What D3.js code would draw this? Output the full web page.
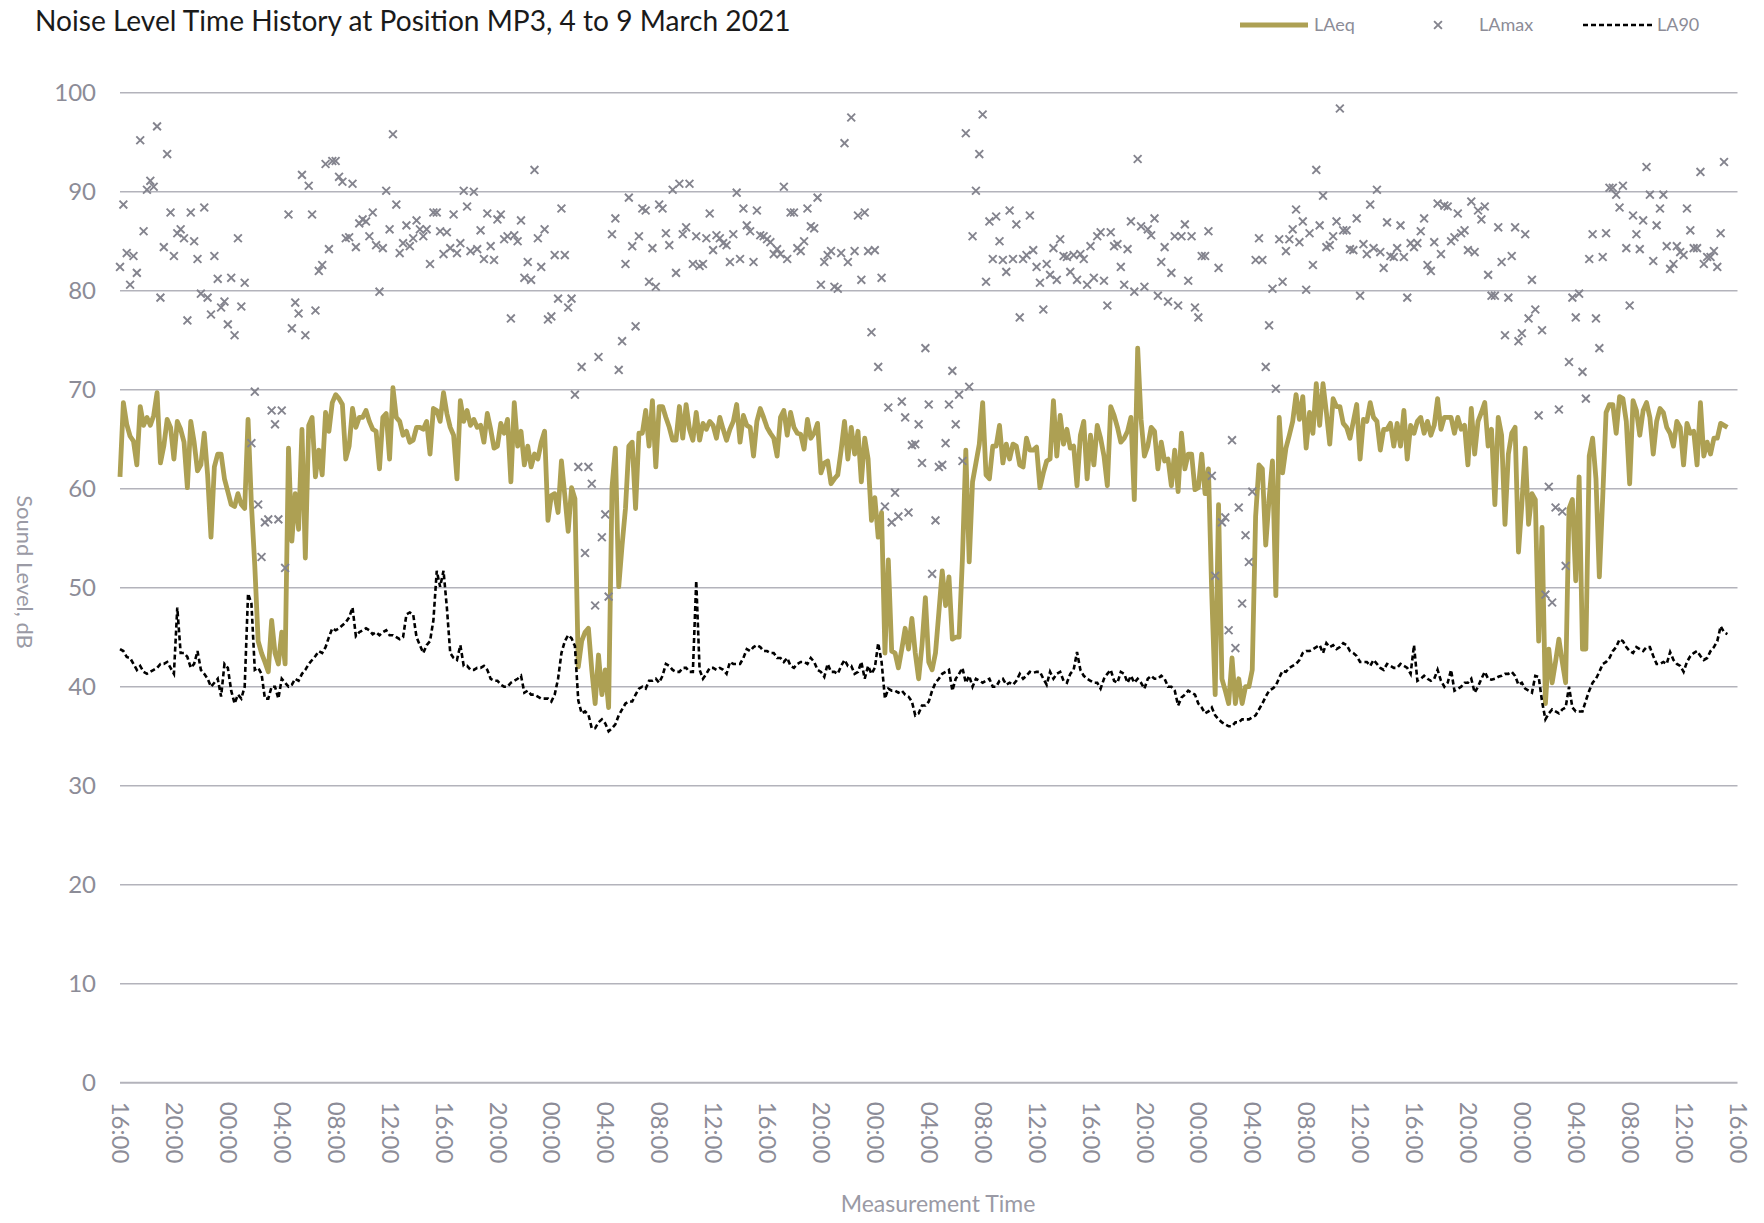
<!DOCTYPE html>
<html>
<head>
<meta charset="utf-8">
<script src="https://cdn.jsdelivr.net/npm/d3@7"></script>
<style>
  html, body { margin: 0; padding: 0; background: #ffffff; }
  svg { display: block; }
  text { font-family: Lato, "Open Sans", "DejaVu Sans", sans-serif; }
</style>
</head>
<body>
<script>
// ---------------- DATA (15-minute intervals from 16:00, 4 March 2021) ----------------
const startTime = new Date(2021, 2, 4, 16, 0);
const endTime = new Date(2021, 2, 9, 16, 0);
const intervalMinutes = 15;

const laeq = [
61.2,68.7,66.5,65.3,64.8,62.4,68.3,66.4,67.2,66.4,
67.4,69.7,62.6,64.3,67.0,66.2,63.0,66.8,66.0,64.7,
60.1,66.8,64.7,61.8,62.4,65.6,61.4,55.1,62.2,63.5,
63.5,61.0,59.7,58.4,58.2,59.5,58.4,58.0,67.0,58.4,
52.2,44.6,43.4,42.5,41.5,46.7,43.4,42.3,45.5,42.3,
64.1,54.7,59.5,55.9,66.0,53.0,66.4,67.2,61.2,63.9,
61.4,67.7,65.8,68.7,69.5,69.1,68.5,63.0,64.3,68.1,
66.2,67.2,67.2,67.9,66.8,66.0,65.8,62.0,67.2,67.6,
63.0,70.2,67.2,66.8,65.4,65.8,64.7,64.9,66.2,66.2,
66.0,66.8,63.5,68.1,67.9,66.8,69.7,67.6,66.2,65.4,
61.0,68.9,66.8,67.9,66.4,67.0,66.2,66.4,64.7,67.6,
66.0,64.1,64.3,66.6,65.6,67.0,60.7,68.7,64.3,65.8,
62.4,64.3,62.2,63.5,63.0,64.7,65.8,56.8,59.3,59.5,
57.6,62.8,59.3,55.7,60.1,59.0,42.0,44.6,45.5,45.9,
41.7,38.3,43.2,39.2,41.7,37.9,60.1,64.1,50.1,54.3,
58.0,64.3,64.7,58.0,65.6,65.6,67.9,64.3,68.9,62.2,
68.3,68.3,67.2,66.2,64.9,64.9,68.3,65.1,68.5,66.0,
64.9,67.7,64.9,66.6,66.0,66.8,66.4,65.1,67.2,66.0,
64.9,66.0,66.8,68.5,64.7,67.4,66.4,66.2,63.3,66.8,
68.1,67.2,66.2,65.6,65.1,63.3,67.2,67.9,65.4,67.7,
66.2,65.6,65.5,64.0,67.0,65.1,65.6,66.6,61.6,62.6,
62.8,60.5,61.0,61.4,63.9,66.8,63.0,66.2,63.5,65.8,
60.7,65.1,63.0,56.8,59.1,55.1,57.6,43.4,52.8,43.6,
43.4,41.9,43.8,45.9,43.8,46.9,43.4,40.8,44.2,49.0,
42.5,41.7,43.4,47.5,51.7,48.2,51.1,44.8,45.0,45.0,
53.0,63.9,52.6,60.7,62.6,64.5,68.7,61.4,61.0,64.3,
64.3,66.4,62.6,64.5,63.0,64.5,64.3,62.4,62.2,65.1,
63.9,63.9,64.2,60.1,61.6,62.8,63.0,68.9,63.3,67.4,
64.5,66.0,64.1,64.3,60.3,65.4,66.8,61.0,65.4,62.4,
66.4,65.1,63.3,60.3,68.3,67.4,66.2,64.7,65.1,65.8,
67.2,58.9,74.2,67.0,63.3,64.3,66.2,65.8,62.0,64.7,
62.8,63.0,60.3,63.9,59.7,65.6,62.0,63.5,63.5,59.9,
60.1,63.5,59.5,62.0,49.2,39.2,58.4,40.8,39.6,38.3,
42.9,38.3,40.8,38.3,40.0,40.0,41.7,57.2,62.4,62.0,
54.3,59.0,62.8,49.2,67.2,61.6,64.1,65.4,66.8,69.5,
67.0,69.3,64.1,67.7,65.6,70.6,66.4,70.6,67.7,64.5,
69.1,68.3,68.3,66.6,66.2,65.1,66.8,68.5,63.0,67.0,
66.8,68.7,67.2,66.8,63.9,66.0,66.0,66.6,64.3,66.6,
64.3,67.9,63.0,66.4,65.6,66.8,67.2,65.6,66.8,65.4,
66.4,69.1,66.0,67.2,67.2,67.2,65.6,67.2,66.0,66.4,
62.4,68.1,63.5,66.8,67.7,68.7,64.3,66.0,58.4,67.2,
65.4,56.4,63.5,65.6,66.2,53.6,58.4,64.1,56.4,59.5,
58.9,44.6,56.1,38.3,43.8,40.4,42.5,44.8,42.5,40.4,
58.0,58.9,50.7,61.2,43.8,43.8,63.3,65.1,61.0,51.1,
59.1,67.7,68.5,68.5,65.6,69.3,69.1,66.8,60.5,68.9,
67.9,65.4,67.9,68.7,67.2,63.5,66.8,68.1,67.7,66.2,
65.6,64.3,66.8,66.2,62.4,66.6,65.6,65.8,62.4,68.7,
63.3,64.7,63.5,65.1,65.1,66.6,66.4,66.2
];

const lamax = [
82.4,88.7,83.8,80.6,83.5,81.8,95.2,86.0,90.2,91.1,
90.5,96.6,79.3,84.4,93.8,87.9,83.5,85.8,86.2,85.3,
77.0,87.9,85.0,83.2,79.7,88.4,79.3,77.6,83.5,81.2,
78.3,78.9,76.6,81.3,75.5,85.3,78.4,80.8,null,64.6,
69.8,58.4,53.1,56.6,56.9,67.9,66.5,56.9,67.9,52.0,
87.7,76.2,78.8,77.7,91.7,75.5,90.6,87.7,78.0,82.0,
82.6,92.8,84.2,93.1,93.1,91.5,91.0,85.3,85.4,90.8,
84.4,86.8,87.2,87.0,85.5,87.9,84.6,79.9,84.3,90.1,
86.2,95.8,88.7,83.8,84.8,86.6,84.5,85.3,87.1,86.2,
85.5,86.2,82.7,87.9,87.9,86.0,83.7,85.9,84.3,87.7,
83.8,84.8,90.1,88.5,84.0,90.0,84.2,86.1,83.2,87.8,
84.5,83.1,87.2,87.7,85.2,85.5,77.2,85.6,85.0,87.1,
81.3,82.9,81.1,92.2,85.3,82.4,86.2,77.1,77.4,83.6,
79.2,88.3,83.6,78.3,79.2,69.5,62.2,72.3,53.5,62.2,
60.5,48.2,73.3,55.1,57.4,49.1,85.7,87.3,72.0,74.9,
82.7,89.4,84.5,76.4,85.5,88.3,88.1,80.9,84.3,80.4,
88.7,88.3,85.8,84.6,90.2,81.8,90.8,85.7,86.4,90.8,
82.7,85.5,82.5,82.7,85.3,87.8,84.1,85.6,85.3,84.8,
84.6,82.9,85.7,89.9,83.2,88.3,86.6,86.0,82.9,88.1,
85.6,85.5,85.2,84.9,83.7,84.2,83.7,90.5,83.2,87.9,
87.9,84.3,84.0,85.0,88.3,86.5,86.3,89.4,80.6,82.9,
83.6,84.0,80.4,80.2,83.8,94.9,82.9,97.5,84.0,87.6,
81.1,87.9,84.0,75.8,84.1,72.3,81.3,58.2,68.2,56.6,
59.6,57.2,68.8,67.2,57.6,64.4,64.5,66.5,62.6,74.2,
68.5,51.4,56.8,62.2,62.4,64.6,68.5,71.9,66.5,69.5,
62.8,95.9,70.3,85.5,90.1,93.8,97.8,80.9,87.0,83.2,
87.5,85.0,83.1,81.9,88.1,83.2,86.7,77.3,83.2,83.6,
87.6,84.1,82.4,80.8,78.1,82.7,81.6,84.3,81.1,85.2,
83.5,83.4,81.9,83.6,81.1,83.7,83.2,80.6,84.5,81.3,
85.5,85.9,81.0,78.5,85.9,84.5,84.7,82.4,80.6,84.2,
87.0,79.9,93.3,86.5,80.4,86.2,85.6,87.3,79.5,82.9,
84.4,78.9,81.8,85.5,78.5,85.5,86.7,81.0,85.5,78.3,
77.3,83.5,83.5,86.0,61.3,51.2,82.3,56.6,57.1,45.7,
64.9,43.9,58.1,48.4,55.3,52.6,59.7,83.1,85.3,83.1,
72.3,76.5,80.2,70.1,85.2,80.9,84.0,85.2,86.2,88.2,
84.9,87.0,80.1,85.8,82.6,92.2,86.6,89.6,84.4,84.6,
85.5,87.0,98.4,86.1,86.1,84.2,84.1,87.3,79.5,84.7,
83.7,88.7,84.3,90.2,83.9,82.3,86.9,83.5,83.4,84.3,
86.6,83.4,79.3,84.8,84.4,84.8,86.0,87.3,82.6,82.0,
84.9,88.8,83.7,88.6,88.5,85.0,85.4,87.8,85.8,86.1,
84.1,89.0,83.9,88.1,87.2,88.5,81.6,79.5,79.5,86.4,
82.9,75.5,79.3,83.5,86.4,74.9,75.7,85.7,77.2,81.1,
78.1,67.4,76.0,49.3,60.2,48.5,58.1,68.0,57.7,52.2,
72.8,79.3,77.3,79.7,71.8,69.1,83.2,85.7,77.2,74.2,
83.4,85.8,90.4,90.4,89.7,88.4,90.6,84.3,78.5,87.6,
85.7,84.2,87.1,92.5,89.7,83.0,86.6,88.3,89.7,84.5,
82.2,82.7,84.5,83.9,83.6,88.3,86.1,84.3,84.3,92.0,
82.7,83.4,83.4,84.0,82.4,85.8,93.0
];

const la90 = [
43.8,43.6,43.0,42.9,42.3,41.7,42.1,41.5,41.3,41.5,
41.7,41.9,42.3,42.3,42.5,41.9,41.3,48.0,43.4,43.4,
43.0,41.9,42.3,43.6,41.7,41.3,40.8,40.0,40.4,40.8,
39.0,42.3,41.9,39.6,38.3,39.2,38.8,40.0,49.4,48.4,
41.7,41.9,41.3,38.8,38.8,40.0,40.0,38.8,40.8,40.4,
40.0,40.2,40.8,40.6,41.3,41.7,42.3,42.7,43.1,43.6,
43.4,44.0,45.0,45.9,45.7,45.9,46.2,46.5,47.0,48.0,
45.1,45.5,45.7,45.9,45.7,45.3,45.5,45.2,45.5,45.7,
45.2,45.2,45.0,44.8,45.0,47.3,47.5,47.3,45.0,44.2,
43.4,44.2,44.6,46.7,51.7,50.1,51.7,48.0,43.4,42.9,
42.7,44.2,42.1,42.1,41.7,41.7,41.9,41.9,42.1,41.7,
40.8,40.6,40.6,40.2,40.0,40.0,40.4,40.6,40.8,41.1,
39.4,39.6,39.2,39.2,39.0,38.8,38.8,38.8,38.5,39.2,
40.8,43.4,44.6,45.2,44.9,44.1,38.6,37.3,37.5,37.2,
35.8,35.8,36.4,36.7,36.3,35.5,35.8,36.2,37.1,37.7,
38.3,38.5,38.5,39.2,39.8,40.0,39.8,40.6,40.6,40.8,
40.4,41.1,42.3,42.1,41.7,41.5,41.5,41.9,41.9,41.5,
41.5,50.7,41.7,40.8,41.3,41.9,41.9,41.7,41.9,41.7,
41.3,42.5,42.3,42.3,42.3,42.9,43.8,43.6,44.0,44.2,
44.0,43.6,43.6,43.4,43.4,42.9,42.9,42.5,42.9,42.1,
41.9,42.3,42.5,42.5,42.3,42.9,42.5,41.7,41.5,41.0,
42.3,41.5,41.5,41.3,42.1,42.7,42.1,42.1,41.3,41.5,
42.5,40.8,42.1,41.3,41.9,44.4,42.5,38.8,39.8,39.6,
39.6,39.4,39.6,39.2,39.0,38.5,37.1,37.3,38.1,38.1,
38.5,39.6,40.4,40.8,41.3,41.5,41.7,39.6,40.8,41.3,
41.9,40.4,41.1,40.0,40.8,40.6,40.4,40.6,40.8,40.0,
40.0,40.6,40.8,40.2,40.4,40.2,40.6,41.3,40.8,41.1,
41.5,41.4,41.5,41.5,40.8,40.2,41.5,40.8,41.3,41.5,
40.6,40.4,41.3,41.7,43.5,41.7,41.1,40.8,40.6,40.4,
40.4,39.8,40.8,41.3,41.7,40.6,40.4,41.5,41.3,40.4,
41.1,40.4,40.8,40.4,39.8,40.8,41.1,40.8,40.8,41.1,
40.8,40.0,40.0,39.6,38.1,38.9,39.2,39.6,39.4,39.2,
38.3,37.9,37.3,37.5,37.9,37.1,36.7,36.4,36.2,36.0,
36.0,36.4,36.4,36.7,36.7,36.7,36.9,37.1,37.7,38.3,
39.0,39.6,39.8,40.1,40.9,41.6,41.5,41.9,42.1,42.3,
42.7,43.4,43.6,43.6,43.8,44.0,44.2,43.4,44.4,44.0,
44.2,43.8,44.0,44.4,44.2,43.6,43.4,43.1,42.5,42.5,
42.5,42.1,42.7,42.3,41.9,41.7,42.3,42.1,41.9,41.9,
42.3,42.1,41.9,41.3,44.2,40.6,40.8,41.1,40.8,40.6,
40.8,41.7,40.6,40.0,40.4,41.7,39.6,39.8,40.0,40.4,
40.4,40.8,39.4,40.0,40.8,41.5,40.8,40.7,40.8,41.0,
41.1,41.3,41.3,41.5,41.1,40.2,40.4,39.8,39.6,39.4,
41.1,41.0,38.5,36.7,37.3,37.7,37.5,37.3,37.7,37.9,
40.0,37.9,37.5,37.5,37.5,38.6,39.6,40.4,40.8,41.5,
42.3,42.5,42.9,43.6,44.0,44.8,44.6,44.0,43.6,43.4,
44.0,43.8,43.6,44.0,44.0,43.1,42.3,42.3,42.5,42.3,
43.5,42.7,42.3,42.1,41.5,42.5,43.1,43.4,43.6,43.1,
42.7,42.9,43.6,44.0,44.6,46.1,45.5,45.3
];

const yTickValues = [0, 10, 20, 30, 40, 50, 60, 70, 80, 90, 100];
const seriesNames = ["LAeq", "LAmax", "LA90"];
const titleText = "Noise Level Time History at Position MP3, 4 to 9 March 2021";
const xAxisTitle = "Measurement Time";
const yAxisTitle = "Sound Level, dB";

// ---------------- LAYOUT / STYLE ----------------
const W = 1764, H = 1223;
const plot = { left: 120, right: 1737.5, top: 92.7, bottom: 1082.7 };
const colLAeq = "#ADA053";
const colMax = "#84848e";
const colText = "#8c8c97";
const colGrid = "#b3b3bb";

const svg = d3.select("body").append("svg")
  .attr("width", W).attr("height", H)
  .attr("viewBox", `0 0 ${W} ${H}`);

const x = d3.scaleTime().domain([startTime, endTime]).range([plot.left, plot.right]);
const y = d3.scaleLinear().domain([0, 100]).range([plot.bottom, plot.top]);

const timeAt = i => d3.timeMinute.offset(startTime, i * intervalMinutes);
const dEq = laeq.map((v, i) => ({ t: timeAt(i), v }));
const dMax = lamax.map((v, i) => ({ t: timeAt(i), v })).filter(d => d.v != null);
const d90 = la90.map((v, i) => ({ t: timeAt(i), v }));

// gridlines
svg.append("g").selectAll("line").data(yTickValues).join("line")
  .attr("x1", plot.left).attr("x2", plot.right)
  .attr("y1", d => y(d)).attr("y2", d => y(d))
  .attr("stroke", colGrid).attr("stroke-width", d => d === 0 ? 2 : 1.5);

// y axis labels
const yAxis = d3.axisLeft(y).tickValues(yTickValues).tickSize(0).tickPadding(24);
const gy = svg.append("g").attr("transform", `translate(${plot.left},0)`).call(yAxis);
gy.select(".domain").remove();
gy.selectAll("text")
  .attr("fill", colText).attr("font-size", 24)
  .attr("font-family", "Lato, 'Open Sans', sans-serif");

// x axis labels (rotated)
const xAxis = d3.axisBottom(x).ticks(d3.timeHour.every(4)).tickFormat(d3.timeFormat("%H:%M")).tickSize(0);
const gx = svg.append("g").attr("transform", `translate(0,${plot.bottom})`).call(xAxis);
gx.select(".domain").remove();
gx.selectAll("text")
  .attr("fill", colText).attr("font-size", 24)
  .attr("font-family", "Lato, 'Open Sans', sans-serif")
  .attr("text-anchor", "start")
  .attr("transform", "rotate(90)")
  .attr("x", 19).attr("y", 0).attr("dy", "0.35em");

// LAeq line
const line = d3.line().x(d => x(d.t)).y(d => y(d.v));
svg.append("path").datum(dEq)
  .attr("d", line).attr("fill", "none")
  .attr("stroke", colLAeq).attr("stroke-width", 4.8)
  .attr("stroke-linejoin", "round");

// LAmax markers
const cross = s => `M${-s},${-s}L${s},${s}M${-s},${s}L${s},${-s}`;
svg.append("g").selectAll("path").data(dMax).join("path")
  .attr("transform", d => `translate(${x(d.t)},${y(d.v)})`)
  .attr("d", cross(3.9)).attr("stroke", colMax).attr("stroke-width", 1.9).attr("fill", "none");

// LA90 line
svg.append("path").datum(d90)
  .attr("d", line).attr("fill", "none")
  .attr("stroke", "#000").attr("stroke-width", 2.6)
  .attr("stroke-dasharray", "5,3");

// title
const title = svg.append("text")
  .attr("x", 35).attr("y", 31)
  .attr("fill", "#1a1a1a").attr("font-size", 28)
  .text(titleText);
const tl = title.node().getComputedTextLength();
title.attr("font-size", 28 * 756 / tl);

// axis titles
svg.append("text")
  .attr("transform", `translate(17,572) rotate(90)`)
  .attr("text-anchor", "middle").attr("fill", "#9a9aa5").attr("font-size", 22)
  .text(yAxisTitle);
svg.append("text")
  .attr("x", 938).attr("y", 1212)
  .attr("text-anchor", "middle").attr("fill", "#9a9aa5").attr("font-size", 23)
  .text(xAxisTitle);

// legend
const lg = svg.append("g").attr("font-size", 18).attr("fill", colText);
lg.append("line").attr("x1", 1240).attr("x2", 1308).attr("y1", 25).attr("y2", 25)
  .attr("stroke", colLAeq).attr("stroke-width", 4.8);
lg.append("text").attr("x", 1314).attr("y", 25).attr("dy", "0.35em").text(seriesNames[0]);
lg.append("path").attr("transform", "translate(1438,25)").attr("d", cross(3.9))
  .attr("stroke", colMax).attr("stroke-width", 1.9);
lg.append("text").attr("x", 1479).attr("y", 25).attr("dy", "0.35em").text(seriesNames[1]);
lg.append("line").attr("x1", 1583).attr("x2", 1652).attr("y1", 25).attr("y2", 25)
  .attr("stroke", "#000").attr("stroke-width", 2.6).attr("stroke-dasharray", "5,3");
lg.append("text").attr("x", 1657).attr("y", 25).attr("dy", "0.35em").text(seriesNames[2]);
</script>
</body>
</html>
